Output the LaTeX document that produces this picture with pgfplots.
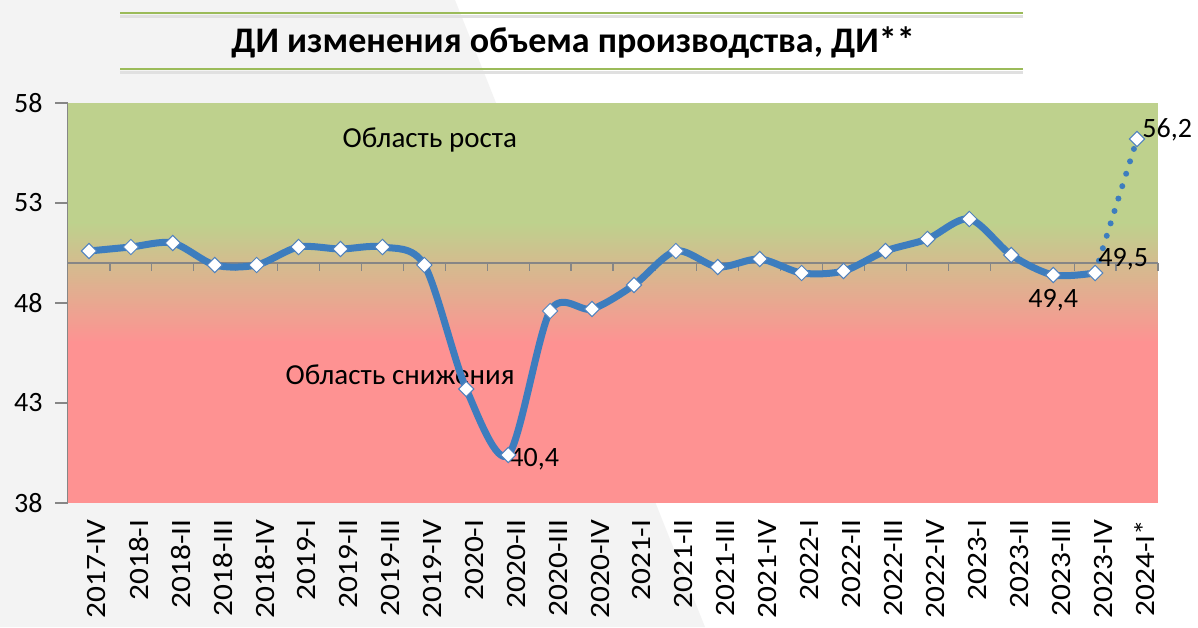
\documentclass[border=0pt]{standalone}
\usepackage{fontspec}
\setmainfont{Carlito}
\newfontfamily\xlab{Carlito}[FakeStretch=1.12]
\usepackage{pgfplots}
\usepackage{pgfplotstable}
\pgfplotsset{compat=1.18}
\definecolor{bgG}{RGB}{190,209,141}
\definecolor{bgR}{RGB}{254,146,146}
\definecolor{lineB}{RGB}{61,125,190}
\definecolor{markB}{RGB}{79,129,189}
\definecolor{titleG}{RGB}{155,187,89}
\definecolor{axG}{RGB}{134,134,134}
\definecolor{slide}{RGB}{243,243,243}

\pgfplotstableread{
x y
0 50.6
1 50.8
2 51.0
3 49.9
4 49.9
5 50.8
6 50.7
7 50.8
8 49.9
9 43.7
10 40.4
11 47.6
12 47.7
13 48.9
14 50.6
15 49.8
16 50.2
17 49.5
18 49.6
19 50.6
20 51.2
21 52.2
22 50.4
23 49.4
24 49.5
}\mainA

\pgfplotstableread{
x y
24 49.5
25 56.2
}\mainB

\begin{document}
\begin{tikzpicture}[x=1pt,y=1pt]
\fill[white] (0,0) rectangle (1198,627);
\fill[slide] (0,627) -- (455,627) -- (705,0) -- (0,0) -- cycle;
% title
\draw[black!12, line width=3pt] (120,610.5) -- (1023,610.5);
\draw[titleG, line width=2pt] (120,614) -- (1023,614);
\draw[black!12, line width=3pt] (120,554.5) -- (1023,554.5);
\draw[titleG, line width=2pt] (120,558) -- (1023,558);
\node[font=\fontsize{36}{40}\selectfont\bfseries] at (573,584) {ДИ изменения объема производства, ДИ**};

\begin{axis}[at={(68pt,124pt)}, anchor=south west,
  width=1090pt, height=400pt, scale only axis,
  xmin=-0.5, xmax=25.5, ymin=38, ymax=58,
  ytick={38,43,48,53,58},
  xtick={0,...,25},
  xticklabels={2017-IV,2018-I,2018-II,2018-III,2018-IV,2019-I,2019-II,2019-III,2019-IV,2020-I,2020-II,2020-III,2020-IV,2021-I,2021-II,2021-III,2021-IV,2022-I,2022-II,2022-III,2022-IV,2023-I,2023-II,2023-III,2023-IV,2024-I*},
  axis lines*=left,
  x axis line style={draw=none},
  y axis line style={axG, line width=1.5pt},
  tick align=outside,
  major tick length=13pt,
  xtick style={draw=none},
  ytick style={axG, line width=1.2pt},
  ticklabel style={font=\fontsize{28}{30}\selectfont},
  /pgf/number format/assume math mode=true,
  xticklabel style={rotate=90, anchor=east, yshift=-8pt, font=\xlab\fontsize{28}{30}\selectfont},
  yticklabel style={anchor=east, xshift=-9pt},
  clip=false,
]
\fill[bgG] (axis cs:-0.5,51.9) rectangle (axis cs:25.5,58);
\shade[top color=bgG, bottom color=bgR] (axis cs:-0.5,46) rectangle (axis cs:25.5,52);
\fill[bgR] (axis cs:-0.5,38) rectangle (axis cs:25.5,46.1);
\draw[axG, line width=1.5pt] (axis cs:-0.5,50) -- (axis cs:25.5,50);
\pgfplotsinvokeforeach{0.5,1.5,...,25.5}{\draw[axG, line width=1.2pt] (axis cs:#1,50) -- ++(0pt,-8pt);}

\node[font=\fontsize{29}{32}\selectfont] at (axis cs:8.13,56.15) {Область роста};
\node[font=\fontsize{29}{32}\selectfont] at (axis cs:7.42,44.4) {Область снижения};

\addplot[lineB, line width=7pt, smooth, tension=0.5, mark=none] table[x=x,y=y] {\mainA};
\addplot[lineB, line width=6pt, dash pattern=on 0pt off 13pt, line cap=round, mark=none] table[x=x,y=y] {\mainB};
\addplot[only marks, mark=square*, mark size=5.4pt, mark options={rotate=45, fill=white, draw=markB, line width=1pt}] table[x=x,y=y] {\mainA};
\addplot[only marks, mark=square*, mark size=5.4pt, mark options={rotate=45, fill=white, draw=markB, line width=1pt}] table[x=x,y=y] {\mainB};

\node[anchor=west, font=\fontsize{28}{30}\selectfont, inner sep=1pt] at (axis cs:10,40.2) {40,4};
\node[anchor=north, font=\fontsize{28}{30}\selectfont, inner sep=1pt] at (axis cs:23,48.75) {49,4};
\node[anchor=west, font=\fontsize{28}{30}\selectfont, inner sep=1pt] at (axis cs:24.05,50.2) {49,5};
\node[anchor=west, font=\fontsize{28}{30}\selectfont, inner sep=1pt] at (axis cs:25.1,56.65) {56,2};
\end{axis}
\end{tikzpicture}
\end{document}
